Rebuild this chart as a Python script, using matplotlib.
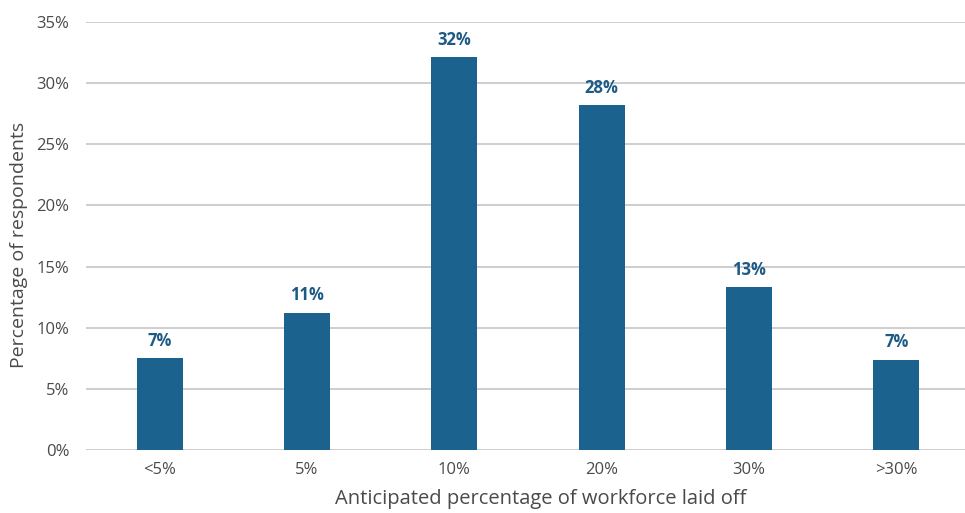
import matplotlib
matplotlib.use("Agg")
import matplotlib.pyplot as plt
from matplotlib.ticker import FuncFormatter

categories = ["<5%", "5%", "10%", "20%", "30%", ">30%"]
values = [7.5, 11.2, 32.1, 28.2, 13.3, 7.4]
labels = ["7%", "11%", "32%", "28%", "13%", "7%"]
yticks = [0, 5, 10, 15, 20, 25, 30, 35]

plt.rcParams['font.family'] = ['Open Sans', 'DejaVu Sans']

fig = plt.figure(figsize=(9.65, 5.13), dpi=100)
ax = fig.add_axes([86/965, 1-450/513, (970-86)/965, (450-22)/513])

bar_color = "#1c628f"
text_color = "#4a4a4a"
ax.bar(range(len(categories)), values, width=0.31, color=bar_color, zorder=3)
for i, (v, lab) in enumerate(zip(values, labels)):
    ax.text(i, v + 0.7, lab, ha="center", va="bottom", fontsize=12,
            fontweight="bold", color="#1d5b86")

ax.set_xlim(-0.5, len(categories) - 0.5)
ax.set_ylim(0, 35)
ax.set_yticks(yticks)
ax.yaxis.set_major_formatter(FuncFormatter(lambda v, p: f"{int(v)}%"))
ax.set_xticks(range(len(categories)))
ax.set_xticklabels(categories)
ax.grid(axis="y", color="#cacaca", linewidth=1.3, zorder=0)
ax.set_axisbelow(True)
for s in ax.spines.values():
    s.set_visible(False)
ax.tick_params(axis="both", length=0, labelsize=12, colors=text_color)
ax.tick_params(axis="y", pad=12)
ax.tick_params(axis="x", pad=9)
ax.set_xlabel("Anticipated percentage of workforce laid off", fontsize=14.5,
              color=text_color)
ax.xaxis.set_label_coords(0.514, -0.09)
ax.set_ylabel("Percentage of respondents", fontsize=14, color=text_color)
ax.yaxis.set_label_coords((28 - 86) / 884, 0.48)

fig.savefig("out.png", dpi=100)
